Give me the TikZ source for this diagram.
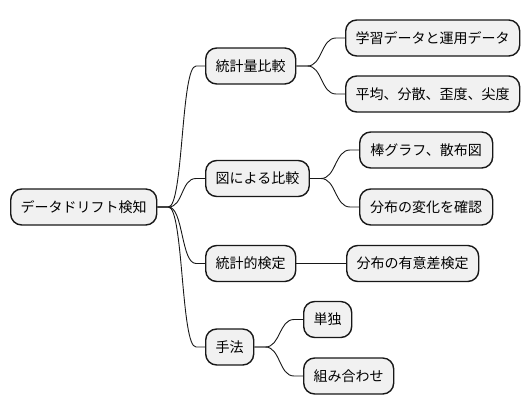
\documentclass[tikz,border=0pt]{standalone}
\usepackage{fontspec}
\setmainfont{Noto Sans CJK JP}
\usepackage{xcolor}
\usepackage{tikz}
\definecolor{boxfill}{HTML}{F1F1F1}
\definecolor{boxline}{HTML}{181818}
\tikzset{
  topic/.style={draw=boxline, fill=boxfill, line width=1.4pt, rounded corners=11pt,
    minimum height=36pt, inner xsep=10pt, inner ysep=2pt, anchor=west,
    font=\fontsize{14pt}{16pt}\selectfont},
  branch/.style={draw=boxline, line width=0.9pt}
}

\begin{document}
\begin{tikzpicture}[x=1pt, y=-1pt]
\useasboundingbox (0,0) rectangle (530,415);
% root and first level
\node[topic] (root) at (10,207) {データドリフト検知};
\node[topic] (stat) at (205,66) {統計量比較};
\node[topic] (fig) at (205,178.5) {図による比較};
\node[topic] (test) at (205,263.5) {統計的検定};
\node[topic] (meth) at (205,347) {手法};
% second level
\node[topic] (stat1) at (345,38) {学習データと運用データ};
\node[topic, minimum width=174pt] (stat2) at (345,94) {平均、分散、歪度、尖度};
\node[topic, minimum width=133pt] (fig1) at (359,150) {棒グラフ、散布図};
\node[topic, minimum width=133pt] (fig2) at (359,207) {分布の変化を確認};
\node[topic] (test1) at (346,263.5) {分布の有意差検定};
\node[topic] (meth1) at (303,319.5) {単独};
\node[topic] (meth2) at (303,376) {組み合わせ};
% branches
\foreach \a/\b in {root/stat, root/fig, root/test, root/meth,
    stat/stat1, stat/stat2, fig/fig1, fig/fig2, test/test1, meth/meth1, meth/meth2}
  \draw[branch] (\a.east) -- ++(11,0) .. controls +(15,0) and +(-15,0) .. ([xshift=-9pt]\b.west) -- (\b.west);
\end{tikzpicture}
\end{document}
